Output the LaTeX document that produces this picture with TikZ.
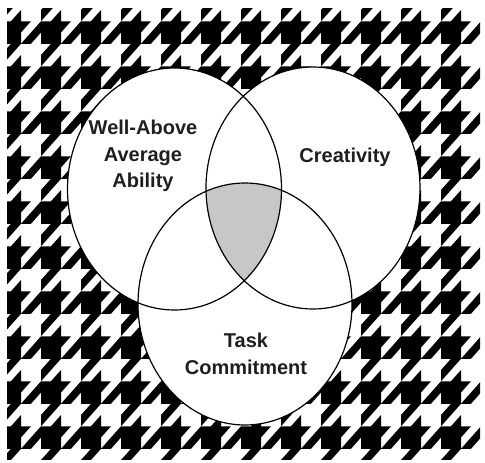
\documentclass[tikz,border=0pt]{standalone}
\usepackage{fontspec}
\newfontfamily\lab{Liberation Sans}
\tikzset{
  venn/.style={draw=black, line width=1.2pt},
  vlabel/.style={font=\lab\bfseries\fontsize{20}{26.5}\selectfont, align=center, inner sep=0pt, text=black!88},
  tooth/.style={fill=black}
}
\begin{document}
\begin{tikzpicture}[x=1pt,y=-1pt]
\useasboundingbox (0,0) rectangle (485,463);
\fill[white] (0,0) rectangle (485,463);
% houndstooth background
\begin{scope}
  \clip (7,8) rectangle (480,459);
  \foreach \i in {-2,...,12}{
    \foreach \j in {-2,...,11}{
      \begin{scope}[shift={(21+40*\i,21.25+45*\j)}, xscale=5, yscale=5.625]
        \fill[tooth] (4,0) -- (6,0) -- (8,-2) -- (8,0) -- (10,0) -- (8,2) -- (8,4)
          -- (4,8) -- (4,6) -- (6,4) -- (4,4) -- (4,2) -- (2,4) -- (0,4) -- cycle;
      \end{scope}
    }
  }
\end{scope}
% circles
\coordinate (cl) at (174.5,189);
\coordinate (cr) at (313,188);
\coordinate (cb) at (245,304);
\fill[white] (cl) ellipse [x radius=107, y radius=121];
\fill[white] (cr) ellipse [x radius=107, y radius=121];
\fill[white] (cb) ellipse [x radius=107, y radius=121];
\begin{scope}
  \clip (cl) ellipse [x radius=107, y radius=121];
  \clip (cr) ellipse [x radius=107, y radius=121];
  \fill[black!22] (cb) ellipse [x radius=107, y radius=121];
\end{scope}
\draw[venn] (cl) ellipse [x radius=107, y radius=121];
\draw[venn] (cr) ellipse [x radius=107, y radius=121];
\draw[venn] (cb) ellipse [x radius=107, y radius=121];
% labels
\node[vlabel, anchor=north] (ability) at (143,120) {Well-Above\\Average\\Ability};
\node[vlabel, anchor=base] (creativity) at (345,162) {Creativity};
\node[vlabel, anchor=north] (task) at (246,333) {Task\\Commitment};
\end{tikzpicture}
\end{document}
